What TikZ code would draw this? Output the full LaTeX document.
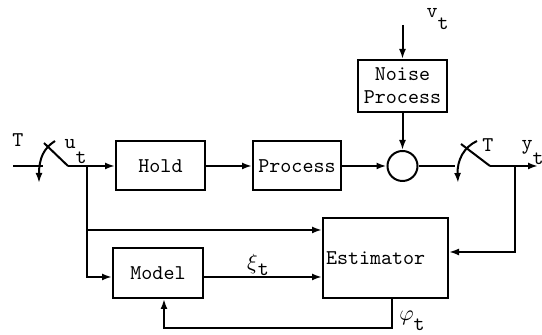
\documentclass[tikz,border=0pt]{standalone}
\usetikzlibrary{arrows.meta}
\newcommand{\sig}[3][7.5pt]{#2\raisebox{-#1}{#3}}
\tikzset{block/.style={draw, rectangle, inner sep=2pt, minimum height=24.5pt}}
\tikzset{sumnode/.style={draw, circle, inner sep=0pt, minimum size=15pt}}

\begin{document}
\begin{tikzpicture}[x=0.5pt, y=-0.5pt, line width=1pt, >={Latex[length=5pt,width=3.5pt]}, font=\ttfamily\fontsize{10.5}{11.5}\selectfont]
		\useasboundingbox (0,0) rectangle (542,335);

		\node[block, minimum width=44.5pt] (hold) at (160.5,166) {Hold};
		\node[block, minimum width=44pt] (proc) at (297,166) {Process};
		\node[sumnode] (sum) at (402.5,166) {};
		\node[block, minimum width=44.5pt, minimum height=26pt, align=center] (noise) at (402.5,86) {Noise\\Process};
		\node[block, minimum width=62.5pt, minimum height=40pt, inner xsep=1.5pt, text width=59.5pt, align=left] (est) at (385.5,258) {Estimator};
		\node[block, minimum width=45pt, minimum height=25pt] (model) at (158,273) {Model};

		\coordinate (uin) at (13,166);
		\coordinate (sw1a) at (43,166);
		\coordinate (sw1b) at (68,166);
		\coordinate (ju) at (87,166);
		\coordinate (jm) at (87,230);
		\coordinate (vin) at (402.5,25);
		\coordinate (sw2a) at (455,166);
		\coordinate (sw2b) at (490,166);
		\coordinate (jy) at (515,166);
		\coordinate (yout) at (538,166);

		% sampler at the input
		\draw (uin) -- (sw1a);
		\draw (sw1b) -- (44,143);
		\draw[->] (55,141) .. controls (44,148) and (39,158) .. (39,183);
		\node at (18,140) {T};
		\node[anchor=base west] at (57,149) {\sig{u}{t}};

		\draw (sw1b) -- (ju);
		\draw[->] (ju) -- (hold);
		\draw[->] (hold) -- (proc);
		\draw[->] (proc) -- (sum);
		\draw[->] (noise) -- (sum);
		\draw[->] (vin) -- (noise);
		\node[anchor=base west] at (419,18) {\sig[6pt]{v}{t}};

		% sampler at the output
		\draw (sum) -- (sw2a);
		\draw (sw2b) -- (461,144);
		\draw[->] (477,141) .. controls (464,147) and (457,160) .. (458,183);
		\node at (488,145) {T};
		\draw[->] (sw2b) -- (yout);
		\node[anchor=base west] at (514,150) {\sig{y}{t}};

		\draw[->] (ju) |- ([yshift=-2pt]model.west);
		\draw[->] (jm) -- (jm -| est.west);
		\draw[->] ([yshift=-2pt]model.east) -- ([yshift=-2pt]model.east -| est.west);
		\node at (258,265) {\sig[3pt]{$\xi$}{t}};
		\draw[->] (jy) |- ([yshift=3pt]est.east);
		\draw[->] ([xshift=3.25pt]est.south) -- ++(0,29) -| ([xshift=3pt]model.south);
		\node at (412,321) {\sig[5pt]{$\varphi$}{t}};
	\end{tikzpicture}
\end{document}
